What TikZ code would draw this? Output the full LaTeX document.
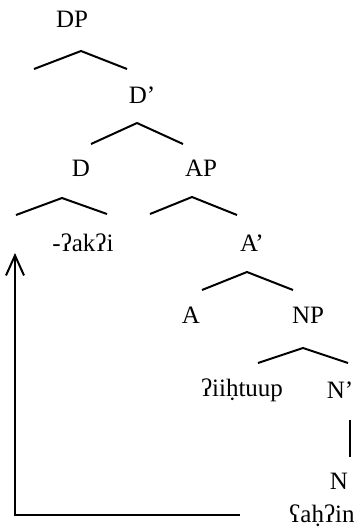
\documentclass[tikz,border=0pt]{standalone}
\usepackage{fontspec}
\setmainfont{Liberation Serif}
\usetikzlibrary{arrows.meta}
\tikzstyle{lbl} = [inner sep=0pt,text centered,font=\fontsize{12.5}{14}\selectfont]
\tikzstyle{branch} = [line width=1pt]
\tikzstyle{move} = [line width=1.4pt,-{Straight Barb[length=10pt,width=9pt,line width=1pt]}]

\begin{document}
\begin{tikzpicture}[x=0.5pt,y=-0.5pt]
			\useasboundingbox (0,0) rectangle (357,532);
			\node [lbl](dp) at (72,19){DP};
			\node [lbl](dbar) at (142,95){D'};
			\node [lbl](d) at (81,168){D};
			\node [lbl](ap) at (201,168){AP};
			\node [lbl](akqi) at (83,243){-ʔakʔi};
			\node [lbl](abar) at (252,243){A'};
			\node [lbl](a) at (191,315){A};
			\node [lbl](np) at (308,315){NP};
			\node [lbl](iihtuup) at (242,390){ʔiiḥtuup};
			\node [lbl](nbar) at (340,390){N'};
			\node [lbl](n) at (339,481){N};
			\node [lbl](sahqin) at (322,516){ʕaḥʔin};
			
			% branch points
			\coordinate (dp-l) at (34,69); \coordinate (dp-t) at (81,51); \coordinate (dp-r) at (127,69);
			\coordinate (dbar-l) at (91,144); \coordinate (dbar-t) at (137,123); \coordinate (dbar-r) at (183,144);
			\coordinate (d-l) at (16,215); \coordinate (d-t) at (62,198); \coordinate (d-r) at (107,214);
			\coordinate (ap-l) at (150,214); \coordinate (ap-t) at (192,197); \coordinate (ap-r) at (237,215);
			\coordinate (abar-l) at (202,290); \coordinate (abar-t) at (247,272); \coordinate (abar-r) at (293,290);
			\coordinate (np-l) at (258,363); \coordinate (np-t) at (303,348); \coordinate (np-r) at (348,363);
			\coordinate (nbar-t) at (350,420); \coordinate (nbar-b) at (350,457);
			\coordinate (mv-s) at (240,515); \coordinate (mv-c) at (15,515); \coordinate (mv-e) at (15,253);
			
			\draw[branch](dp-l)--(dp-t)--(dp-r);
			\draw[branch](dbar-l)--(dbar-t)--(dbar-r);
			\draw[branch](d-l)--(d-t)--(d-r);
			\draw[branch](ap-l)--(ap-t)--(ap-r);
			\draw[branch](abar-l)--(abar-t)--(abar-r);
			\draw[branch](np-l)--(np-t)--(np-r);
			\draw[branch](nbar-t)--(nbar-b);
			\draw[move](mv-s)--(mv-c)--(mv-e);
			\end{tikzpicture}
\end{document}
